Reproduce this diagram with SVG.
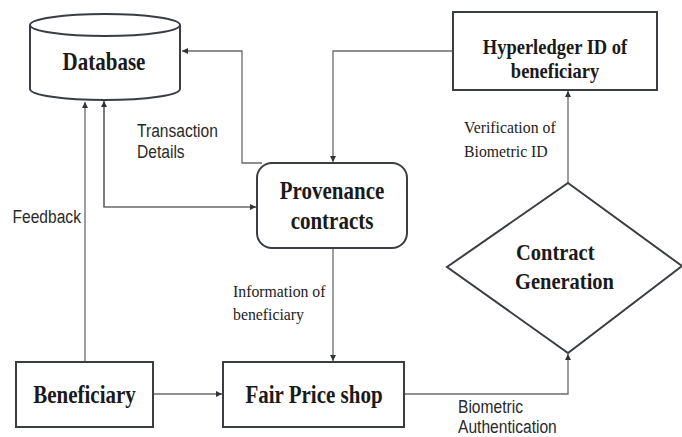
<svg xmlns="http://www.w3.org/2000/svg" width="682" height="437" viewBox="0 0 682 437">
<style>
.box{fill:#fff;stroke:#3a3d42;stroke-width:2}
.ln{fill:none;stroke:#6a6a6a;stroke-width:1.3}
.t{font-family:"Liberation Serif","Times New Roman",serif;font-weight:bold;font-size:21px;fill:#1a1a1a;text-anchor:middle}
.lbl{font-family:"Liberation Serif","Times New Roman",serif;font-size:15.8px;fill:#222}
.lbs{font-family:"Liberation Sans",Arial,sans-serif;font-size:15.6px;fill:#2a2a2a}
</style>
<defs>
<marker id="ar" viewBox="0 0 8 8" refX="8" refY="4" markerWidth="6" markerHeight="6" orient="auto" markerUnits="userSpaceOnUse">
<path d="M0,0 L8,4 L0,8 z" fill="#333"/>
</marker>
</defs>
<g id="connectors">
<polyline class="ln" points="262,163 242,163 242,51 182,51" marker-end="url(#ar)"/>
<polyline class="ln" points="453,51 333,51 333,162" marker-end="url(#ar)"/>
<polyline class="ln" points="85,362 85,102" marker-end="url(#ar)"/>
<polyline class="ln" points="104,101 104,207 256,207" marker-end="url(#ar)"/>
<line class="ln" x1="104" y1="207" x2="104" y2="101" marker-end="url(#ar)"/>
<polyline class="ln" points="333,248 333,361" marker-end="url(#ar)"/>
<polyline class="ln" points="153,394 222,394" marker-end="url(#ar)"/>
<polyline class="ln" points="404,394 568,394 568,354" marker-end="url(#ar)"/>
<polyline class="ln" points="568,183 568,91" marker-end="url(#ar)"/>
<text class="lbs" transform="translate(137,137) scale(1,1.12)">Transaction</text>
<text class="lbs" transform="translate(137,158) scale(1,1.12)">Details</text>
<text class="lbs" transform="translate(12.5,223) scale(1,1.12)">Feedback</text>
<text class="lbl" transform="translate(233,297) scale(1,1.12)">Information of</text>
<text class="lbl" transform="translate(233,320) scale(1,1.12)">beneficiary</text>
<text class="lbl" transform="translate(464,133) scale(1,1.12)">Verification of</text>
<text class="lbl" transform="translate(464,157) scale(1,1.12)">Biometric ID</text>
<text class="lbs" transform="translate(458,413) scale(1,1.12)">Biometric</text>
<text class="lbs" transform="translate(458,433) scale(1,1.12)">Authentication</text>
</g>
<g id="database">
<path class="box" d="M30,25 L30,89 A75,11 0 0 0 180,89 L180,25"/>
<ellipse class="box" cx="105" cy="25" rx="75" ry="11"/>
<text class="t" transform="translate(104,70) scale(1,1.15)">Database</text>
</g>
<g id="hyperledger">
<rect class="box" x="453" y="12" width="204" height="78"/>
<text class="t" style="font-size:18.5px" transform="translate(555,54) scale(1,1.15)">Hyperledger ID of</text>
<text class="t" style="font-size:18.5px" transform="translate(555,78) scale(1,1.15)">beneficiary</text>
</g>
<g id="provenance">
<rect class="box" x="257" y="163" width="150" height="85" rx="15"/>
<text class="t" transform="translate(332,199) scale(1,1.15)">Provenance</text>
<text class="t" transform="translate(332,229) scale(1,1.15)">contracts</text>
</g>
<g id="contract-generation">
<polygon class="box" points="568,183 682,266 568,353 447,267"/>
<text class="t" style="text-anchor:start;font-size:20.5px" transform="translate(516,260) scale(1,1.15)">Contract</text>
<text class="t" style="text-anchor:start;font-size:20.5px" transform="translate(515,289) scale(1,1.15)">Generation</text>
</g>
<g id="beneficiary">
<rect class="box" x="16" y="362" width="137" height="65"/>
<text class="t" transform="translate(84.5,403) scale(1,1.15)">Beneficiary</text>
</g>
<g id="fair-price-shop">
<rect class="box" x="223" y="362" width="181" height="65"/>
<text class="t" transform="translate(314,403) scale(1,1.15)">Fair Price shop</text>
</g>
</svg>
